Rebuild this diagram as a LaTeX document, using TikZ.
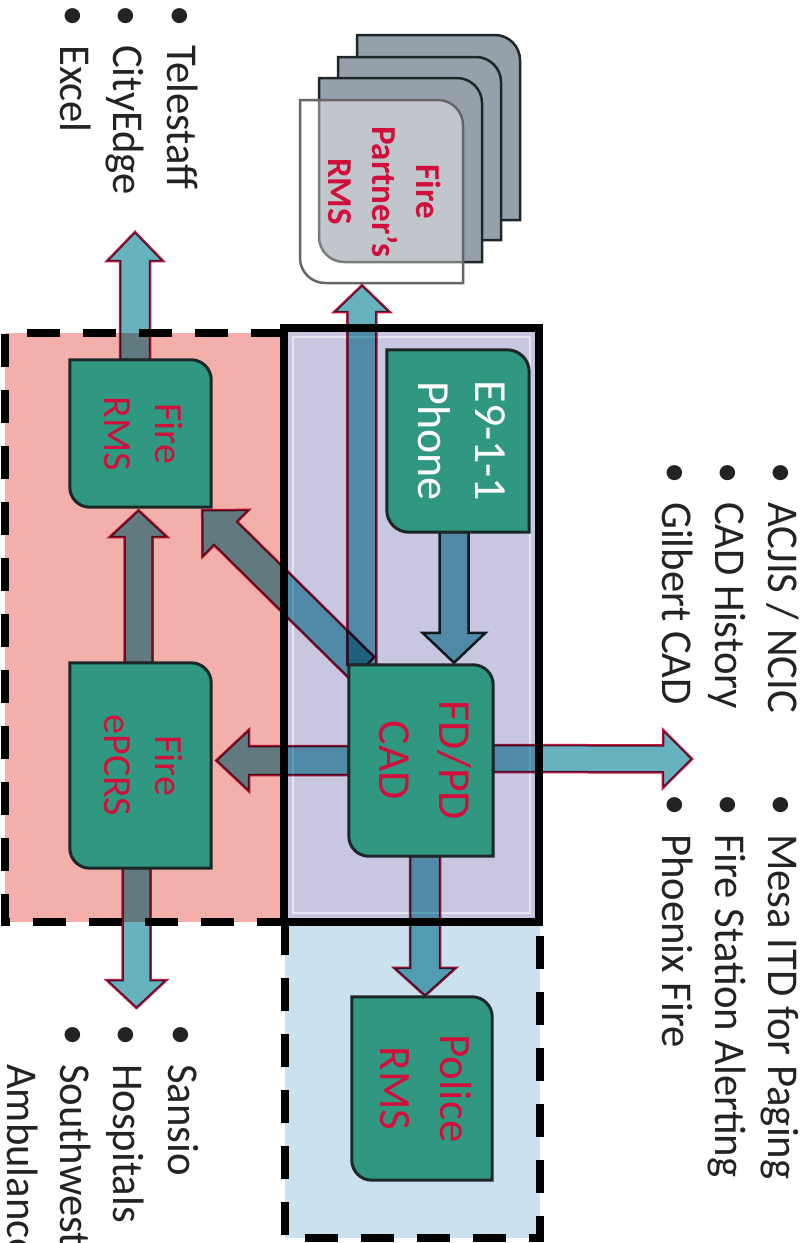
\documentclass[tikz,border=0pt]{standalone}
\usepackage{fontspec}
\setmainfont{Carlito}
\newfontfamily\listfont[FakeStretch=0.97]{Carlito}
\usepackage{graphicx}
\usetikzlibrary{calc}
\definecolor{gfill}{RGB}{48,152,128}
\definecolor{gline}{RGB}{28,40,40}
\definecolor{txtred}{RGB}{208,16,58}
\definecolor{pinkbg}{RGB}{243,176,171}
\definecolor{lavbg}{RGB}{200,198,225}
\definecolor{bluebg}{RGB}{202,225,240}
\definecolor{arrfill}{RGB}{102,178,190}
\definecolor{arrline}{RGB}{196,24,60}
\definecolor{cardgrey}{RGB}{150,160,170}
\definecolor{txtdark}{RGB}{35,35,35}
\pgfdeclarelayer{bg}\pgfdeclarelayer{arr}\pgfdeclarelayer{boxes}
\pgfsetlayers{bg,arr,boxes,main}
\tikzset{
 solidborder/.style={line width=8pt, draw=black},
 dashedborder/.style={line width=8pt, draw=black, dash pattern=on 33pt off 23pt},
 boxnode/.style={rectangle, inner sep=0pt, align=center},
 gshape/.style={fill=gfill, draw=gline, line width=3pt},
 backcard/.style={fill=cardgrey, draw=gline, line width=2.5pt},
 frontcard/.style={fill=white, fill opacity=0.4, draw=black!60, line width=2.5pt},
 blk/.style={fill=arrfill, draw=arrline, line width=2.5pt, line join=miter, blend mode=multiply},
 listitem/.style={rotate=-90, anchor=base west, inner sep=0pt, text=txtdark, font=\listfont\fontsize{44}{53}\selectfont},
}
% rounded top-right and bottom-left corners around a node
\newcommand\greenshape[3][gshape]{%
\begin{pgfonlayer}{boxes}
\path[#1] let \p1=(#2.north west), \p2=(#2.south east) in
 (\x1,\y1) -- (\x2-#3,\y1) .. controls (\x2-0.45*#3,\y1) and (\x2,\y1-0.45*#3) .. (\x2,\y1-#3)
 -- (\x2,\y2) -- (\x1+#3,\y2) .. controls (\x1+0.45*#3,\y2) and (\x1,\y2+0.45*#3) .. (\x1,\y2+#3) -- cycle;
\end{pgfonlayer}}
% card path in picture coordinates (y downwards)
\newcommand\cardshape[6]{%
\path[#1] (#2,#3) -- (#4-#6,#3) .. controls (#4-0.45*#6,#3) and (#4,#3+0.45*#6) .. (#4,#3+#6)
 -- (#4,#5) -- (#2+#6,#5) .. controls (#2+0.45*#6,#5) and (#2,#5-0.45*#6) .. (#2,#5-#6) -- cycle;}
% block arrow: [style]{from}{to}{shaft half width}{head half width}{head length}
\newcommand\blockarrow[6][]{%
\draw[blk,#1] let \p1=#2, \p2=#3, \n1={veclen(\x2-\x1,\y2-\y1)}, \n2={atan2(\y2-\y1,\x2-\x1)} in
 [shift={(\p1)}, rotate=\n2] (0pt,-#4) -- (\n1-#6,-#4) -- (\n1-#6,-#5) -- (\n1,0pt) -- (\n1-#6,#5) -- (\n1-#6,#4) -- (0pt,#4) -- cycle;}
\newcommand\boxtxt[3]{\rotatebox{-90}{\fontsize{#1}{#2}\selectfont\begin{tabular}{@{}c@{}}#3\end{tabular}}}

\begin{document}
\begin{tikzpicture}[x=1pt,y=-1pt]
\useasboundingbox (0,0) rectangle (809,1243);

% ---------- regions ----------
\begin{pgfonlayer}{bg}
\fill[pinkbg] (5,333) rectangle (284,922);
\draw[dashedborder] (284,333) -- (5,333) -- (5,922) -- (284,922);
\fill[bluebg] (285,922) rectangle (540,1238);
\draw[dashedborder] (285,922) -- (285,1238) -- (540,1238) -- (540,922);
\draw[solidborder, fill=lavbg] (284,328) rectangle (539,922);
\draw[white!55!lavbg, line width=2pt] (293,337) rectangle (530,913);
% partner RMS stack
\cardshape{backcard}{357}{35}{520}{220}{25}
\cardshape{backcard}{338}{57}{501}{240}{25}
\cardshape{backcard}{319}{78}{482}{262}{25}
\cardshape{frontcard}{300}{100}{463}{283}{25}
\end{pgfonlayer}

% ---------- boxes ----------
\node[boxnode, minimum width=141pt, minimum height=147pt, text=txtred] (firerms) at (140.5,433.5) {\boxtxt{40}{51}{Fire\\RMS}};
\node[boxnode, minimum width=141pt, minimum height=205pt, text=txtred] (epcrs) at (140.5,765.5) {\boxtxt{40}{51}{Fire\\ePCRS}};
\node[boxnode, minimum width=142pt, minimum height=182pt, text=white] (e911) at (458,441) {\boxtxt{46}{57}{E9-1-1\\Phone}};
\node[boxnode, minimum width=144pt, minimum height=191pt, text=txtred] (cad) at (421,760.5) {\boxtxt{46}{60}{FD/PD\\CAD}};
\node[boxnode, minimum width=140pt, minimum height=183pt, text=txtred] (police) at (422,1088.5) {\boxtxt{45}{60}{Police\\RMS}};
\node[boxnode, minimum width=163pt, minimum height=183pt, text=txtred, font=\bfseries] (partner) at (381.5,191.5) {\boxtxt{35}{44}{Fire\\Partner’s\\RMS}};
\greenshape{firerms}{20pt}
\greenshape{epcrs}{20pt}
\greenshape{e911}{22pt}
\greenshape{cad}{20pt}
\greenshape{police}{20pt}

% ---------- free arrow ends ----------
\coordinate (t1) at (135,232);
\coordinate (t3) at (136.5,1008);
\coordinate (t8) at (692,759);

% ---------- arrows ----------
\begin{pgfonlayer}{arr}
\blockarrow{($(firerms.north)+(-5.5,0)$)}{(t1)}{15pt}{28pt}{29pt}
\blockarrow{($(epcrs.north)+(-2,0)$)}{($(firerms.south)+(-2,3)$)}{14pt}{29pt}{27pt}
\blockarrow{($(epcrs.south)+(-4,0)$)}{(t3)}{14pt}{30pt}{28pt}
\blockarrow{(cad.west)}{($(epcrs.east)+(5,-5)$)}{14.5pt}{31pt}{33pt}
\blockarrow{($(cad.north west)+(14,4)$)}{($(firerms.south east)+(-9,3)$)}{16.5pt}{33pt}{33pt}
\blockarrow{($(cad.north west)+(13,0)$)}{($(partner.south)+(-19.5,2)$)}{14.5pt}{28pt}{27pt}
\blockarrow[draw=gline]{($(e911.south)+(-4,0)$)}{($(cad.north)+(33,-2)$)}{14.5pt}{31.5pt}{30pt}
\blockarrow{($(cad.east)+(0,-2)$)}{(t8)}{13.5pt}{29pt}{29pt}
\blockarrow{($(cad.south)+(4,0)$)}{($(police.north)+(3,-1)$)}{15pt}{31pt}{28pt}
\end{pgfonlayer}

% ---------- lists ----------
\node[listitem] (la1) at (167,5) {\makebox[40pt][l]{•}Telestaff};
\node[listitem] (la2) at (113,5) {\makebox[40pt][l]{•}CityEdge};
\node[listitem] (la3) at (60,5) {\makebox[40pt][l]{•}Excel};
\node[listitem] (lb1) at (768,462) {\makebox[40pt][l]{•}ACJIS / NCIC};
\node[listitem] (lb2) at (715,462) {\makebox[40pt][l]{•}CAD History};
\node[listitem] (lb3) at (662,462) {\makebox[40pt][l]{•}Gilbert CAD};
\node[listitem] (lc1) at (768,794) {\makebox[40pt][l]{•}Mesa ITD for Paging};
\node[listitem] (lc2) at (715,794) {\makebox[40pt][l]{•}Fire Station Alerting};
\node[listitem] (lc3) at (662,794) {\makebox[40pt][l]{•}Phoenix Fire};
\node[listitem] (ld1) at (168,1024) {\makebox[40pt][l]{•}Sansio};
\node[listitem] (ld2) at (113,1024) {\makebox[40pt][l]{•}Hospitals};
\node[listitem] (ld3) at (60,1024) {\makebox[40pt][l]{•}Southwest};
\node[listitem] (ld4) at (8,1024) {\makebox[40pt][l]{}Ambulance};
\end{tikzpicture}
\end{document}
